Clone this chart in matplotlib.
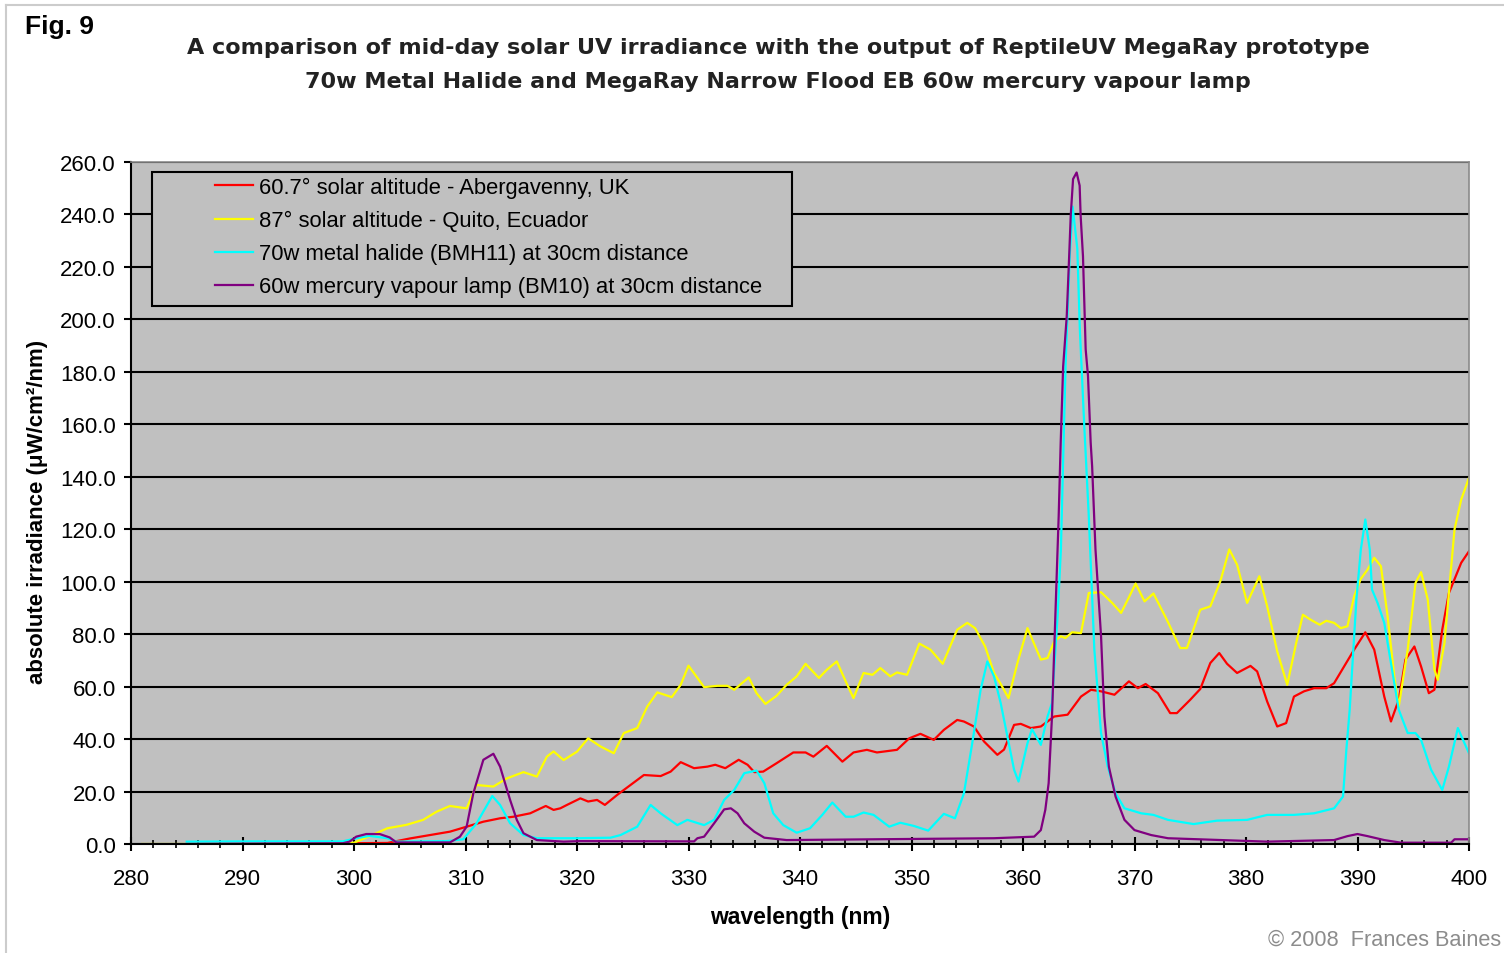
import matplotlib
matplotlib.use("Agg")
import matplotlib.pyplot as plt
from matplotlib.lines import Line2D
from matplotlib.patches import Rectangle
from matplotlib.ticker import MultipleLocator, FormatStrFormatter

# 60.7 deg solar altitude - Abergavenny, UK
wl_red = [285, 290, 295, 300, 303, 305, 306.8, 308.6, 310.1, 311.6, 313.1, 314.3, 315.8, 317.2, 317.9,
          318.5, 319.1, 320.3, 321, 321.8, 322.5, 323.6, 324.8, 326, 327.5, 328.4, 329.3, 330.5, 331.7,
          332.4, 333.3, 334.5, 335.3, 335.9, 336.7, 337.9, 339.4, 340.5, 341.2, 342.4, 343.8, 344.8, 346,
          346.9, 348.7, 349.8, 350.8, 352, 352.9, 354.1, 354.7, 355.6, 356.5, 357.7, 358.3, 359.2, 359.8,
          360.7, 361.6, 362.8, 364, 365.2, 366.1, 367, 368.2, 369.5, 370.3, 371, 372.1, 373.2, 373.8, 375,
          375.9, 376.8, 377.6, 378.3, 379.2, 380.4, 381, 381.9, 382.8, 383.6, 384.3, 385.2, 386.1, 387.2,
          387.9, 388.8, 389.7, 390.7, 391.5, 392.4, 393, 393.7, 394.3, 395.1, 395.7, 396.4, 396.9, 397.6,
          398.2, 399.3, 400]
val_red = [0, 0, 0, 0.3, 0.4, 2.1, 3.4, 4.7, 6.6, 8.5, 9.8, 10.4, 11.7, 14.5, 13,
           13.6, 14.9, 17.4, 16.2, 16.8, 14.9, 18.7, 22.5, 26.3, 25.9, 27.6, 31.2, 28.9, 29.5,
           30.2, 28.9, 32.1, 30.2, 27.4, 27.6, 30.8, 34.9, 34.9, 33.3, 37.4, 31.4, 34.9, 35.9,
           34.9, 35.9, 40.3, 42, 39.7, 43.5, 47.3, 46.7, 44.8, 39.1, 34, 36, 45.4, 45.8,
           44.2, 44.8, 48.6, 49.3, 56.2, 58.8, 58.2, 56.9, 62, 59.4, 61, 57.5, 49.9, 49.9, 55,
           59.1, 69, 72.8, 68.7, 65.2, 67.9, 65.8, 54.3, 44.8, 46.1, 56.2, 58.2, 59.4, 59.4,
           61.3, 67.7, 74.1, 80.7, 74.1, 56.2, 46.7, 55, 70.3, 75.3, 67.7, 57.5, 58.8, 81.7,
           95.7, 107.2, 111.6]

# 87 deg solar altitude - Quito, Ecuador
wl_yel = [281, 282.3, 285, 290, 295, 300, 301.4, 303, 304.7, 306.2, 307.4, 308.6, 310.1, 311, 312.5,
          313.7, 315.2, 316.4, 317.3, 317.9, 318.8, 320, 321, 322.1, 323.3, 324.2, 325.4, 326.3, 327.2,
          328.5, 329.3, 330, 331.4, 332.6, 333.5, 334.1, 335.4, 336.1, 336.9, 337.9, 338.8, 339.7, 340.5,
          341.7, 342.4, 343.3, 344.1, 344.8, 345.7, 346.5, 347.2, 348.1, 348.7, 349.6, 350.7, 351.7, 352.8,
          354.1, 355, 355.7, 356.6, 357.4, 358, 358.7, 359.5, 360.4, 361.6, 362.2, 362.8, 363.4, 363.8,
          364.4, 365.2, 365.9, 367, 368, 368.8, 369.4, 370.1, 370.9, 371.7, 372.9, 374.1, 374.7, 375.9,
          376.8, 377.7, 378.5, 379.2, 380.1, 381.2, 381.9, 382.8, 383.7, 384.5, 385.1, 385.8, 386.6,
          387.2, 387.9, 388.5, 389.1, 389.7, 390.3, 390.9, 391.5, 392.1, 392.7, 393.3, 393.7, 394.5,
          395.2, 395.7, 396.3, 396.9, 397.2, 397.8, 398.7, 399.3, 400]
val_yel = [0, 0, 0, 0, 0, 0.5, 3, 6, 7.3, 9.2, 12.3, 14.5, 13.6, 22.5, 21.9,
           25, 27.4, 25.7, 33.3, 35.3, 32, 35.2, 40.3, 37.2, 34.6, 42.3, 44.2, 52.4, 57.8,
           56, 60.7, 68, 59.8, 60.3, 60.3, 58.8, 63.5, 57.5, 53.4, 56.5, 60.7, 63.9, 68.7,
           63.3, 66.4, 69.6, 62, 55.6, 65.2, 64.5, 67.1, 63.9, 65.4, 64.5, 76.4, 74.1, 68.7,
           81.7, 84.3, 82.3, 75.3, 65.2, 61, 55.6, 69, 82.3, 70.3, 70.9, 77.3, 79.2, 78.5,
           80.7, 80.4, 95.7, 96, 91.9, 88.1, 93.2, 99.3, 92.5, 95.5, 85.5, 74.7, 74.7, 89.3,
           90.6, 100.2, 112.3, 106.5, 91.9, 102.1, 90.6, 73.4, 60.7, 76.6, 87.4, 85.5, 83.6,
           85.1, 84.3, 82.3, 83, 94.4, 101.1, 104.6, 109.1, 105.9, 86.8, 63.9, 52.4, 74.1,
           99.5, 103.6, 93.2, 66.4, 62.6, 76.6, 119.9, 131.3, 139.6]

# 70w metal halide (BMH11) at 30cm
wl_cyan = [285, 290, 295, 299, 300.2, 301.4, 303, 303.8, 308.3, 309.8, 311, 312.4, 313.1, 314, 315.2,
           316.4, 320, 323, 323.9, 325.4, 326.6, 327.5, 329, 329.9, 331.4, 332.3, 333.2, 334.1, 335,
           336.1, 336.8, 337.6, 338.5, 339.7, 340.9, 342, 342.9, 344.1, 344.8, 345.7, 346.6, 348, 349,
           350.2, 351.5, 352.9, 353.9, 354.7, 355.4, 356.2, 356.8, 357.4, 358, 358.6, 359.2, 359.6,
           360.4, 360.8, 361.6, 362.2, 362.6, 363.1, 363.4, 363.67, 363.83, 364.2, 364.45, 364.87,
           365.1, 365.5, 365.9, 366.4, 367, 367.6, 368.3, 369.1, 370.6, 371.7, 373, 375.3, 377.4,
           380.1, 381.9, 384.3, 386.1, 387.9, 388.7, 389, 389.3, 389.9, 390.3, 390.7, 391.1, 391.3,
           391.8, 392.4, 393, 393.7, 394.5, 395.2, 395.7, 396.6, 397.6, 398.2, 399, 399.6, 400]
val_cyan = [0.9, 1, 1, 1, 2.2, 3.1, 2.2, 0.9, 1.1, 1.8, 7.9, 18.3, 14.9, 7.9, 3.4,
            2.2, 2.2, 2.4, 3.4, 6.6, 14.9, 11.7, 7.2, 9.2, 7.2, 9.2, 16.8, 20.6, 27,
            28, 23.2, 11.7, 7.2, 4.3, 6, 11.1, 15.8, 10.4, 10.4, 12, 11.1, 6.6, 8.1,
            6.9, 5.1, 11.5, 9.8, 19.3, 37.2, 58.8, 69.6, 63.9, 53.7, 41, 28.3, 23.8,
            38.4, 43.8, 37.8, 48.6, 53.7, 86.8, 112.3, 158, 184, 225, 243, 227,
            196, 159, 125, 74, 42.3, 29.5, 19.3, 13.6, 11.7, 11.1, 9.2, 7.6, 8.9,
            9.2, 11.1, 11.1, 11.7, 13.6, 18.1, 35.9, 51.2, 93.2, 112.3, 123.7, 112.3, 97,
            91.9, 84.3, 69, 51.2, 42.3, 42.3, 39.7, 28.3, 20.6, 29.5, 44.2, 38.4, 34.6]

# 60w mercury vapour lamp (BM10) at 30cm
wl_purp = [285, 299, 299.6, 300.2, 301.1, 302.3, 303.2, 303.8, 308.6, 309.5, 310.1, 310.7, 311.6, 312.5,
           313.1, 314, 314.6, 315.2, 316.4, 318.8, 320.3, 330.5, 330.8, 331.4, 332.3, 333.2, 333.8, 334.4,
           335, 335.9, 336.8, 338.8, 357.4, 361, 361.6, 362, 362.3, 362.6, 362.9, 363.2, 363.38, 363.6,
           363.92, 364.13, 364.28, 364.49, 364.81, 365.08, 365.17, 365.38, 365.62, 365.83, 366.07, 366.2,
           366.5, 367, 367.3, 367.7, 368.3, 369.1, 370, 371.5, 373, 381.9, 387.9, 389.1, 390, 390.9,
           392.4, 393.9, 398.4, 398.7, 400]
val_purp = [0, 0.3, 0.9, 2.8, 3.8, 3.8, 2.5, 0.6, 0.6, 2.8, 6.6, 19.3, 32.1, 34.4,
            29.5, 16.8, 9.2, 4.1, 1.5, 0.9, 1.1, 1, 2.2, 2.8, 7.9, 13.2, 13.6, 11.7,
            7.9, 4.7, 2.4, 1.5, 2.2, 2.8, 5.3, 13, 23.2, 48.6, 86.8, 125, 153, 182,
            201, 223, 239.5, 253.5, 256, 251, 239.5, 224, 188.6, 178.4, 153, 144,
            112.3, 79.2, 48.6, 29.5, 18.1, 9.2, 5.3, 3.4, 2.2, 0.9, 1.5, 3, 3.8, 3,
            1.5, 0.5, 0.5, 1.8, 1.8]

labels = ["60.7° solar altitude - Abergavenny, UK",
          "87° solar altitude - Quito, Ecuador",
          "70w metal halide (BMH11) at 30cm distance",
          "60w mercury vapour lamp (BM10) at 30cm distance"]
colors = ["#FF0000", "#FFFF00", "#00FFFF", "#800080"]

fig = plt.figure(figsize=(15.04, 9.54), dpi=100)
ax = fig.add_axes([131/1504, 1-845/954, (1469-131)/1504, (845-163)/954])
ax.set_facecolor("#C0C0C0")

for x, y, c, lab in zip([wl_red, wl_yel, wl_cyan, wl_purp], [val_red, val_yel, val_cyan, val_purp], colors, labels):
    ax.plot(x, y, color=c, lw=1.6, label=lab, zorder=2)

ax.set_xlim(280, 400)
ax.set_ylim(0, 260)
ax.xaxis.set_major_locator(MultipleLocator(10))
ax.xaxis.set_minor_locator(MultipleLocator(2))
ax.yaxis.set_major_locator(MultipleLocator(20))
ax.yaxis.set_major_formatter(FormatStrFormatter("%.1f"))
ax.set_axisbelow(True)
ax.yaxis.grid(True, color="black", lw=1.5)

for s in ["left", "bottom"]:
    ax.spines[s].set_color("black")
    ax.spines[s].set_linewidth(1.5)
for s in ["top", "right"]:
    ax.spines[s].set_color("#8a8a8a")
    ax.spines[s].set_linewidth(1.2)

ax.tick_params(axis="y", direction="out", length=5, width=1.5, pad=6,
               labelsize=16, labelfontfamily="Liberation Sans", colors="black")
ax.tick_params(axis="x", which="major", direction="inout", length=10, width=1.5, pad=12,
               labelsize=16, labelfontfamily="Liberation Sans")
ax.tick_params(axis="x", which="minor", direction="inout", length=6, width=1.2)

ax.set_xlabel("wavelength (nm)", fontsize=16.5, fontweight="bold", family="Liberation Sans", labelpad=12)
ax.set_ylabel("absolute irradiance (μW/cm²/nm)", fontsize=16, fontweight="bold",
              family="Liberation Sans", va="center")
ax.yaxis.set_label_coords((38-131)/1338, (845-512)/682)

# legend box
x0 = (152-131)/1338
y0 = (845-307)/682
box = Rectangle((x0, y0), (792-152)/1338, (307-173)/682, transform=ax.transAxes,
                facecolor="#C0C0C0", edgecolor="black", lw=1.5, zorder=3)
ax.add_patch(box)
leg = ax.legend(loc="upper left", bbox_to_anchor=((215-131)/1338, (845-178)/682), frameon=False,
                prop={"family": "Liberation Sans", "size": 15.8},
                handlelength=1.75, handletextpad=0.25, labelspacing=0.55, borderpad=0, borderaxespad=0)
leg.set_zorder(4)

fig.text(25/1504, 1-27/954, "Fig. 9", fontsize=19, fontweight="bold", family="Liberation Sans",
         va="center", ha="left")
fig.text(778/1504, 1-48/954, "A comparison of mid-day solar UV irradiance with the output of ReptileUV MegaRay prototype",
         fontsize=16, fontweight="bold", family="DejaVu Sans", color="#222222", ha="center", va="center")
fig.text(778/1504, 1-82/954, "70w Metal Halide and MegaRay Narrow Flood EB 60w mercury vapour lamp",
         fontsize=16, fontweight="bold", family="DejaVu Sans", color="#222222", ha="center", va="center")
fig.text(1501/1504, 1-940/954, "© 2008  Frances Baines", fontsize=15.7, family="Liberation Sans",
         color="#8c8c8c", ha="right", va="center")

# outer frame
fig.add_artist(Line2D([6/1504, 1], [1-6/954, 1-6/954], color="#cccccc", lw=1.5))
fig.add_artist(Line2D([6/1504, 6/1504], [0, 1-6/954], color="#cccccc", lw=1.5))

fig.savefig("out.png", dpi=100, facecolor="white")
